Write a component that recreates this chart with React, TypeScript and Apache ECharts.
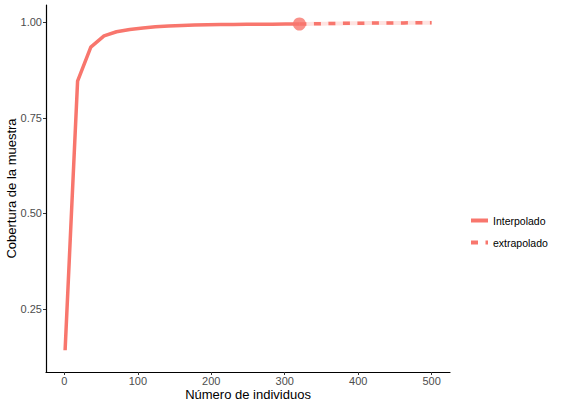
import React, { useEffect, useRef } from "react";
import * as echarts from "echarts";

const interpM = [1, 18, 36, 54, 71, 89, 107, 124, 142, 160, 177, 195, 213, 230, 248, 266, 283, 301, 319, 320];
const interpC = [0.142, 0.846, 0.935, 0.964, 0.975, 0.981, 0.985, 0.988, 0.990, 0.9915, 0.9925, 0.9932, 0.9937, 0.9941, 0.9944, 0.9947, 0.9949, 0.9951, 0.9953, 0.9953];
const extrapM = [320, 330, 339, 349, 358, 368, 377, 387, 396, 405, 415, 424, 434, 443, 452, 462, 471, 481, 490, 500];
const extrapC = [0.9953, 0.9956, 0.9959, 0.9962, 0.9964, 0.9967, 0.9969, 0.9971, 0.9973, 0.9974, 0.9976, 0.9977, 0.9979, 0.998, 0.9981, 0.9982, 0.9983, 0.9984, 0.9985, 0.9986];
const observedM = [320];
const observedC = [0.9953];
const xTicks = [0, 100, 200, 300, 400, 500];
const yTicks = [0.25, 0.5, 0.75, 1.0];
const legendNames = ["Interpolado", "extrapolado"];

const RED = "#F8766D";

export default function App() {
  const ref = useRef<HTMLDivElement>(null);
  useEffect(() => {
    if (!ref.current) return;
    const chart = echarts.init(ref.current, null, { renderer: "svg" });
    const font = "'Liberation Sans', Arial, sans-serif";
    chart.setOption({
      animation: false,
      backgroundColor: "#ffffff",
      grid: { left: 46, right: 113, top: 5, bottom: 36, containLabel: false, outerBoundsMode: "none" },
      legend: {
        orient: "vertical",
        left: 469,
        top: 215,
        padding: 0,
        itemWidth: 17,
        itemHeight: 10,
        itemGap: 11,
        data: legendNames,
        itemStyle: { opacity: 0 },
        lineStyle: { width: 4 },
        textStyle: { fontFamily: font, fontSize: 10.5, color: "#000" },
      },
      xAxis: {
        type: "value",
        min: -25,
        max: 525,
        name: "Número de individuos",
        nameLocation: "middle",
        nameGap: 16,
        nameMoveOverlap: false,
        nameTextStyle: { fontFamily: font, fontSize: 13, color: "#000" },
        axisLine: { show: true, onZero: false, lineStyle: { color: "#000", width: 1.2 } },
        axisTick: { show: true, length: 3, customValues: xTicks, lineStyle: { color: "#333" } },
        axisLabel: { customValues: xTicks, fontFamily: font, fontSize: 11, color: "#4d4d4d", margin: 3 },
        splitLine: { show: false },
      },
      yAxis: {
        type: "value",
        min: 0.085,
        max: 1.045,
        name: "Cobertura de la muestra",
        nameLocation: "middle",
        nameGap: 28,
        nameMoveOverlap: false,
        nameTextStyle: { fontFamily: font, fontSize: 13, color: "#000" },
        axisLine: { show: true, onZero: false, lineStyle: { color: "#000", width: 1.2 } },
        axisTick: { show: true, length: 3, customValues: yTicks, lineStyle: { color: "#333" } },
        axisLabel: {
          customValues: yTicks,
          fontFamily: font,
          fontSize: 11,
          color: "#4d4d4d",
          margin: 4,
          formatter: (v: number) => v.toFixed(2),
        },
        splitLine: { show: false },
      },
      series: [
        {
          name: "ribbon",
          type: "line",
          data: extrapM.map((m, i) => [m, extrapC[i]]),
          symbol: "none",
          lineStyle: { color: "rgba(248,118,109,0.2)", width: 4 },
          silent: true,
          z: 1,
        },
        {
          name: "Interpolado",
          type: "line",
          data: interpM.map((m, i) => [m, interpC[i]]),
          symbol: "none",
          color: RED,
          lineStyle: { color: RED, width: 3.5 },
          z: 3,
        },
        {
          name: "extrapolado",
          type: "line",
          data: extrapM.map((m, i) => [m, extrapC[i]]),
          symbol: "none",
          color: RED,
          lineStyle: { color: RED, width: 3.5, type: [7, 7.5] },
          z: 2,
        },
        {
          name: "observed",
          type: "scatter",
          data: observedM.map((m, i) => [m, observedC[i]]),
          symbol: "circle",
          symbolSize: 13,
          itemStyle: { color: RED },
          z: 4,
        },
      ],
    });
    return () => chart.dispose();
  }, []);
  return <div ref={ref} style={{ position: "fixed", left: 0, top: 0, width: 563, height: 408 }} />;
}
